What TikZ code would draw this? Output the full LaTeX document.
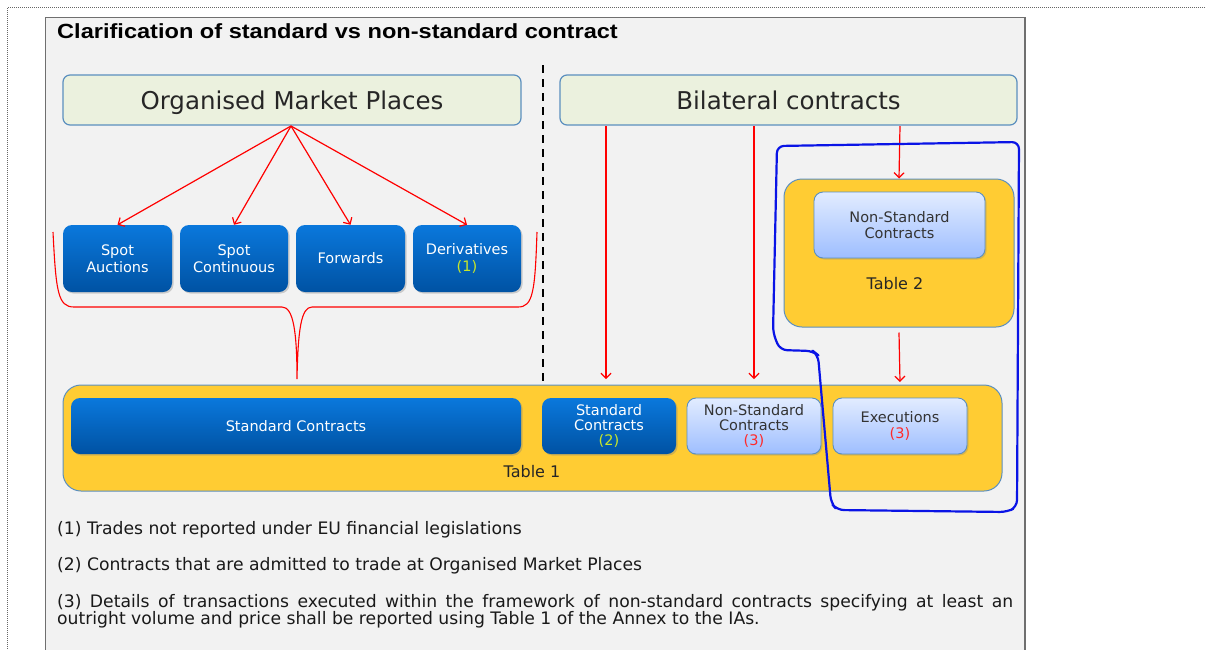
\documentclass[tikz,border=0pt]{standalone}
\usepackage{fontspec}
\setmainfont{DejaVu Sans}
\newfontfamily\titlefont[FakeStretch=1.15]{Liberation Sans}
\newfontfamily\notefont{DejaVu Sans}
\usetikzlibrary{arrows.meta,shadows}
\definecolor{panelbg}{HTML}{F2F2F2}
\definecolor{panelline}{HTML}{6F6F6F}
\definecolor{greenbox}{HTML}{EBF1DE}
\definecolor{boxline}{HTML}{5B8FBF}
\definecolor{bluetop}{HTML}{0A78DC}
\definecolor{bluebot}{HTML}{0052A3}
\definecolor{lighttop}{HTML}{E2ECFF}
\definecolor{lightbot}{HTML}{9EBEFF}
\definecolor{gold}{HTML}{FFCC33}
\definecolor{ygreen}{HTML}{C8E62A}
\definecolor{redtxt}{HTML}{FF2A2A}
\definecolor{handblue}{HTML}{0A14E6}
\tikzset{
  hdr/.style={draw=boxline, line width=1.2pt, fill=greenbox, rounded corners=7pt,
    minimum width=458pt, minimum height=50pt, inner sep=0pt, text depth=0pt, font=\fontsize{24.5}{26}\selectfont, text=black!85},
  bluebox/.style={draw=none, top color=bluetop, bottom color=bluebot, rounded corners=9pt,
    inner sep=0pt, text=white, align=center, font=\fontsize{14.5}{16.5}\selectfont,
    drop shadow={shadow xshift=1.5pt, shadow yshift=-1.5pt, opacity=0.35}},
  lightbox/.style={draw=boxline, line width=0.9pt, top color=lighttop, bottom color=lightbot, rounded corners=9pt,
    inner sep=0pt, text=black!80, align=center, font=\fontsize{14.5}{16.5}\selectfont,
    drop shadow={shadow xshift=1.5pt, shadow yshift=-1.5pt, opacity=0.3}},
  goldbox/.style={draw=boxline, line width=1pt, fill=gold, rounded corners=18pt, inner sep=0pt},
  tlabel/.style={inner sep=0pt, font=\fontsize{16}{18}\selectfont, text=black!85},
  redarrow/.style={draw=red, line width=1.2pt, -{Straight Barb[length=5pt,width=10pt]}},
  note/.style={anchor=base west, inner sep=0pt, font=\notefont\fontsize{17.2}{17}\selectfont, text=black!90},
}
\begin{document}
\begin{tikzpicture}[x=1pt,y=-1pt]
\useasboundingbox (0,0) rectangle (1205,649);
\fill[white] (0,0) rectangle (1205,649);
% outer dotted frame
\draw[black!60, line width=0.8pt, dash pattern=on 1pt off 1pt] (1205,7.5) -- (7.5,7.5) -- (7.5,649);
% panel
\draw[panelline, line width=1.6pt, fill=panelbg] (45.5,17.5) -- (1025,17.5) -- (1025,660) -- (45.5,660) -- cycle;
% title
\node[anchor=base west, inner sep=0pt, font=\titlefont\bfseries\fontsize{20.5}{22}\selectfont] (title) at (57,38) {Clarification of standard vs non-standard contract};
% headers
\node[hdr] (omp) at (292,100) {Organised Market Places};
\node[hdr, minimum width=457pt] (bil) at (788.5,100) {Bilateral contracts};
% dashed divider
\coordinate (dtop) at (543,65);
\coordinate (dbot) at (543,383);
\draw[black, line width=2.6pt, dash pattern=on 8pt off 6pt] (dtop) -- (dbot);
% market place boxes
\node[bluebox, minimum width=109pt, minimum height=67pt] (sa) at (117.5,258.5) {Spot\\Auctions};
\node[bluebox, minimum width=108pt, minimum height=67pt] (sc) at (234,258.5) {Spot\\Continuous};
\node[bluebox, minimum width=109pt, minimum height=67pt] (fw) at (350.5,258.5) {Forwards};
\node[bluebox, minimum width=108pt, minimum height=67pt] (dv) at (467,258.5) {Derivatives\\{\color{ygreen}(1)}};
% arrows from OMP
\coordinate (ompb) at (291,126);
\draw[redarrow] (ompb) -- (sa.north);
\draw[redarrow] (ompb) -- (sc.north);
\draw[redarrow] (ompb) -- (fw.north);
\draw[redarrow] (ompb) -- (dv.north);
% brace
\coordinate (bl) at (53,232);
\coordinate (br) at (537,232);
\coordinate (btip) at (297,379);
\draw[red, line width=1.1pt] (bl) .. controls (56,292) and (58,307) .. (74,307) -- (282,307)
  .. controls (293,307) and (297,330) .. (btip)
  .. controls (298,330) and (301,307) .. (312,307) -- (518,307)
  .. controls (533,307) and (535,292) .. (br);
% Table 1
\node[goldbox, minimum width=939pt, minimum height=106pt] (t1) at (532.5,438) {};
\node[tlabel] (t1lbl) at (532,472) {Table 1};
\node[bluebox, minimum width=450pt, minimum height=56pt] (std) at (296,426) {Standard Contracts};
\node[bluebox, minimum width=134pt, minimum height=56pt] (std2) at (609,426) {Standard\\[-1.5pt]Contracts\\[-1.5pt]{\color{ygreen}(2)}};
\node[lightbox, minimum width=134pt, minimum height=56pt] (nsc) at (754,426) {Non-Standard\\[-1.5pt]Contracts\\[-1.5pt]{\color{redtxt}(3)}};
\node[lightbox, minimum width=134pt, minimum height=56pt] (ex) at (900,426) {Executions\\{\color{redtxt}(3)}};
% Table 2
\node[goldbox, minimum width=230pt, minimum height=148pt] (t2) at (899,253) {};
\node[lightbox, minimum width=171pt, minimum height=66pt] (nsc2) at (899.5,225) {Non-Standard\\Contracts};
\node[tlabel] (t2lbl) at (895,284) {Table 2};
% bilateral arrows
\draw[redarrow] (606,126) -- (606,379);
\draw[redarrow] (754,126) -- (754,379);
\draw[redarrow] (900,126) -- (t2.north);
\draw[redarrow] (t2.south) ++(0,5) -- (900,382);
% hand-drawn outline
\draw[handblue, line width=2.2pt, rounded corners=7pt, line join=round]
  (777,146) -- (1019,142) -- (1017,507) -- (1007,512) -- (837,510) -- (831,503) -- (818,355) -- (813,351) -- (780,350) -- (773,333) -- cycle;
% footnotes
\node[note] (n1) at (57,534) {(1) Trades not reported under EU financial legislations};
\node[note] (n2) at (57,570) {(2) Contracts that are admitted to trade at Organised Market Places};
\node[note, anchor=north west, text width=956pt, align=justify] (n3) at (57,594) {\hyphenpenalty=10000 \exhyphenpenalty=10000 (3) Details of transactions executed within the framework of non-standard contracts specifying at least an \mbox{outright} volume and price shall be reported using Table 1 of the Annex to the IAs.};
\end{tikzpicture}
\end{document}
